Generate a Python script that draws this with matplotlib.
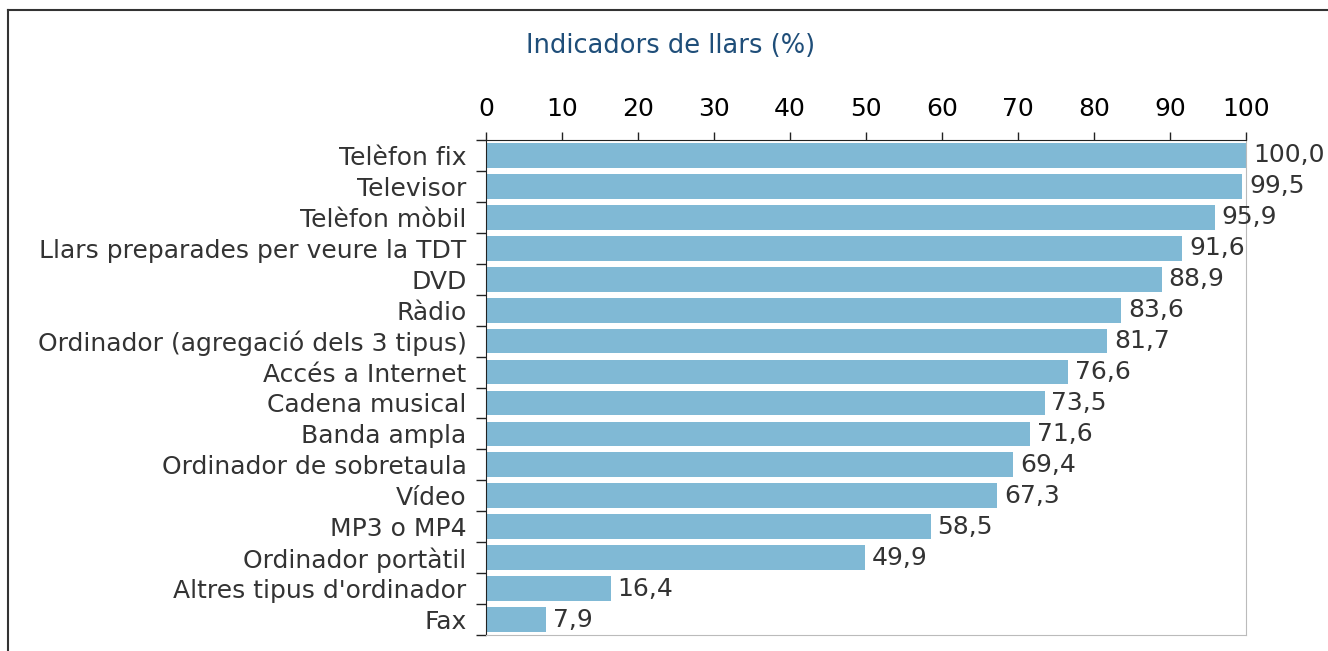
import matplotlib
matplotlib.use("Agg")
from matplotlib import pyplot as plt
from matplotlib.lines import Line2D

categories = ["Telèfon fix", "Televisor", "Telèfon mòbil", "Llars preparades per veure la TDT",
              "DVD", "Ràdio", "Ordinador (agregació dels 3 tipus)", "Accés a Internet",
              "Cadena musical", "Banda ampla", "Ordinador de sobretaula", "Vídeo",
              "MP3 o MP4", "Ordinador portàtil", "Altres tipus d'ordinador", "Fax"]
values = [100.0, 99.5, 95.9, 91.6, 88.9, 83.6, 81.7, 76.6, 73.5, 71.6, 69.4, 67.3,
          58.5, 49.9, 16.4, 7.9]
xticks = [0, 10, 20, 30, 40, 50, 60, 70, 80, 90, 100]

W, H = 1328, 651
fig = plt.figure(figsize=(W / 100, H / 100), dpi=100)
ax = fig.add_axes([486 / W, 1 - 635 / H, (1246 - 486) / W, (635 - 140) / H])

n = len(categories)
ypos = list(range(n))
ax.barh(ypos, values, height=0.8, color="#80b9d5", zorder=2)
ax.set_ylim(n - 0.5, -0.5)
ax.set_xlim(0, 100)

for y, v in zip(ypos, values):
    ax.text(v + 0.9, y, f"{v:.1f}".replace(".", ","), va="center", ha="left",
            fontsize=18, color="#333333")

ax.xaxis.tick_top()
ax.set_xticks(xticks)
ax.tick_params(axis="x", which="major", labelsize=18, direction="out", length=6,
               width=1, pad=8, colors="#222222", labelcolor="black")

ax.set_yticks(ypos)
ax.set_yticklabels(categories)
ax.set_yticks([i - 0.5 for i in range(n + 1)], minor=True)
ax.tick_params(axis="y", which="major", length=0, pad=14, labelsize=18, labelcolor="#333333")
ax.tick_params(axis="y", which="minor", length=7, width=1, direction="out", color="#222222")

ax.spines["top"].set_color("#222222")
ax.spines["left"].set_color("#222222")
ax.spines["right"].set_color("#bbbbbb")
ax.spines["bottom"].set_color("#bbbbbb")

fig.text(671 / W, 1 - 46 / H, "Indicadors de llars (%)", ha="center", va="center",
         fontsize=18.5, color="#1f4e79")

# outer frame (open at right and bottom edges)
fig.add_artist(Line2D([8 / W, 8 / W], [0, 1 - 10 / H], transform=fig.transFigure,
                      color="#333333", lw=1.5))
fig.add_artist(Line2D([8 / W, 1], [1 - 10 / H, 1 - 10 / H], transform=fig.transFigure,
                      color="#333333", lw=1.5))

fig.savefig("out.png", dpi=100)
